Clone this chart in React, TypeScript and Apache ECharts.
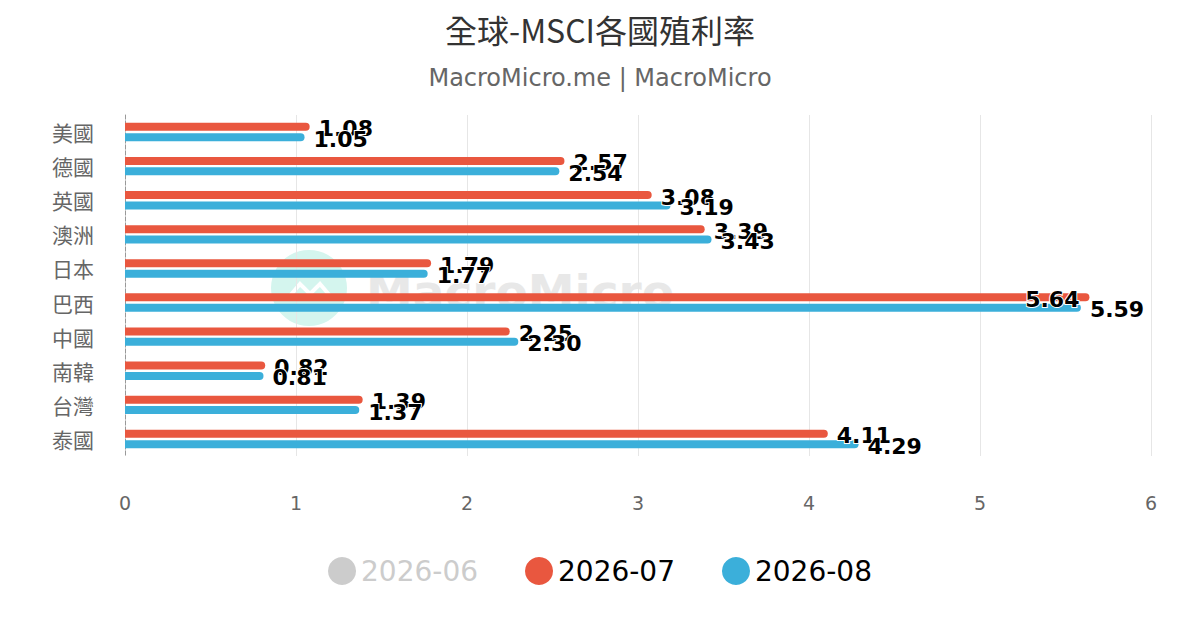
import React, { useEffect, useRef } from 'react';
import * as echarts from 'echarts';

const categories = ['美國', '德國', '英國', '澳洲', '日本', '巴西', '中國', '南韓', '台灣', '泰國'];
const seriesNames = ['2026-06', '2026-07', '2026-08'];
const juneValues: number[] = []; // hidden in the legend
const julyValues = [1.08, 2.57, 3.08, 3.39, 1.79, 5.64, 2.25, 0.82, 1.39, 4.11];
const augValues = [1.05, 2.54, 3.19, 3.43, 1.77, 5.59, 2.30, 0.81, 1.37, 4.29];
const xTicks = [0, 1, 2, 3, 4, 5, 6];

const X_MAX = 6;
const LABEL_FONT = "'DejaVu Sans', sans-serif";
const CJK_FONT = "'Noto Sans CJK TC', sans-serif";

// labels that would run past the plot edge get pulled inside the bar
const toItems = (values: number[]) =>
    values.map(v => v > X_MAX - 0.38
        ? { value: v, label: { position: 'insideRight', distance: 10 } }
        : { value: v });

const App: React.FC = () => {
    const chartRef = useRef<HTMLDivElement>(null);

    useEffect(() => {
        document.body.style.margin = '0';
        if (!chartRef.current) return;
        const chart = echarts.init(chartRef.current, null, { renderer: 'svg' });

        const barLabel = {
            show: true,
            position: 'right',
            distance: 9,
            offset: [0, 2],
            color: '#000',
            fontSize: 22,
            fontWeight: 'bold',
            fontFamily: LABEL_FONT,
            textBorderColor: '#fff',
            textBorderWidth: 2,
            formatter: (p: any) => p.value.toFixed(2)
        };

        const options = {
            animation: false,
            title: [
                {
                    text: '全球-MSCI各國殖利率',
                    left: 'center',
                    top: 8,
                    textStyle: { fontSize: 32, fontWeight: 'normal', color: '#333', fontFamily: CJK_FONT }
                },
                {
                    text: 'MacroMicro.me | MacroMicro',
                    left: 'center',
                    top: 61,
                    textStyle: { fontSize: 24, fontWeight: 'normal', color: '#666', fontFamily: LABEL_FONT }
                }
            ],
            legend: {
                data: seriesNames,
                bottom: 40,
                left: 'center',
                icon: 'circle',
                itemWidth: 28,
                itemHeight: 28,
                itemGap: 47,
                inactiveColor: '#ccc',
                selected: { '2026-06': false },
                textStyle: { fontSize: 28, color: '#000', fontFamily: LABEL_FONT }
            },
            color: ['#cccccc', '#E9573F', '#3BAFDA'],
            grid: { left: 125, right: 49, top: 115, bottom: 174 },
            xAxis: {
                type: 'value',
                min: xTicks[0],
                max: xTicks[xTicks.length - 1],
                interval: 1,
                axisLine: { show: false },
                axisTick: { show: false },
                axisLabel: { color: '#666', fontSize: 19, margin: 37, fontFamily: LABEL_FONT },
                splitLine: { lineStyle: { color: '#e6e6e6', width: 1 } }
            },
            yAxis: {
                type: 'category',
                inverse: true,
                data: categories,
                axisLine: { show: true, lineStyle: { color: '#999', type: 'dashed', width: 1 } },
                axisTick: { show: false },
                axisLabel: { color: '#666', fontSize: 21, margin: 31, fontFamily: CJK_FONT }
            },
            graphic: [
                {
                    type: 'circle',
                    z: -10,
                    shape: { cx: 309, cy: 288, r: 38 },
                    style: { fill: '#d4f5ee' }
                },
                {
                    type: 'polyline',
                    z: -9,
                    shape: { points: [[289, 297], [300, 284], [310, 294], [320, 284], [331, 297]] },
                    style: { stroke: '#fff', lineWidth: 4, fill: null }
                },
                {
                    type: 'text',
                    z: -10,
                    style: {
                        text: 'MacroMicro',
                        x: 366,
                        y: 291,
                        textVerticalAlign: 'middle',
                        font: `bold 47px ${LABEL_FONT}`,
                        fill: '#e8e8e8'
                    }
                }
            ],
            series: [
                { name: seriesNames[0], type: 'bar', data: juneValues, barWidth: 8 },
                {
                    name: seriesNames[1],
                    type: 'bar',
                    data: toItems(julyValues),
                    barWidth: 8,
                    barGap: '30%',
                    itemStyle: { borderRadius: [0, 4, 4, 0] },
                    label: barLabel
                },
                {
                    name: seriesNames[2],
                    type: 'bar',
                    data: toItems(augValues),
                    barWidth: 8,
                    barGap: '30%',
                    itemStyle: { borderRadius: [0, 4, 4, 0] },
                    label: barLabel
                }
            ]
        };
        chart.setOption(options as any);
        return () => {
            chart.dispose();
        };
    }, []);

    return <div ref={chartRef} style={{ width: 1200, height: 630 }} />;
};

export default App;
